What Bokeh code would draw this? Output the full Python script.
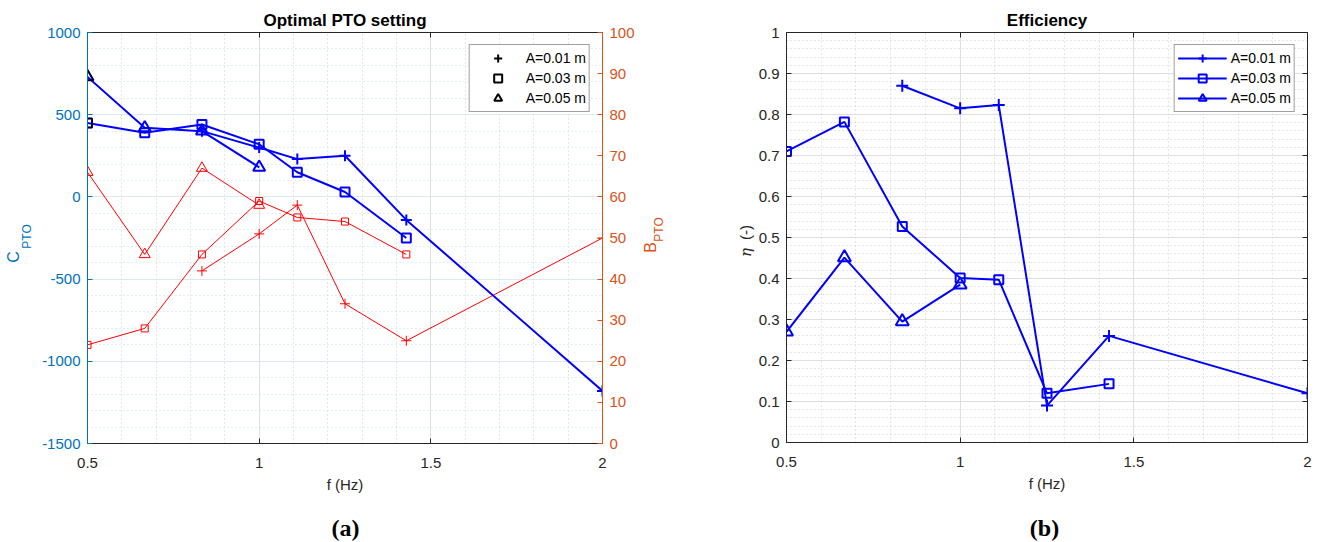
import math
import numpy as np
from bokeh.plotting import figure
from bokeh.layouts import row, column
from bokeh.models import (Range1d, LinearAxis, Grid, FixedTicker, NumeralTickFormatter,
                          CustomJSTickFormatter, Legend, LegendItem, Title)
from bokeh.core.properties import value
from bokeh.embed import file_html
from bokeh.resources import INLINE

# wave frequencies f = 1/T (T = 2.0, 1.5, 1.2, 1.0, 0.9, 0.8, 0.7, 0.5 s)
f_a001 = [0.8333, 1.0, 1.1111, 1.25, 1.4286, 2.0]
f_a003 = [0.5, 0.6667, 0.8333, 1.0, 1.1111, 1.25, 1.4286]
f_a005 = [0.5, 0.6667, 0.8333, 1.0]

# optimal PTO stiffness (left axis)
c_pto_a001 = [400, 300, 230, 250, -140, -1180]
c_pto_a003 = [450, 390, 440, 320, 150, 30, -250]
c_pto_a005 = [730, 420, 400, 180]

# optimal PTO damping (right axis)
b_pto_a001 = [42, 51, 58, 34, 25, 50]
b_pto_a003 = [24, 28, 46, 59, 55, 54, 46]
b_pto_a005 = [66, 46, 67, 58]

# efficiency
eta_a001 = [0.87, 0.815, 0.823, 0.09, 0.26, 0.12]
eta_a003 = [0.71, 0.782, 0.527, 0.401, 0.397, 0.12, 0.143]
eta_a005 = [0.27, 0.451, 0.295, 0.385]

amp_labels = ["A=0.01 m", "A=0.03 m", "A=0.05 m"]

x_ticks = [0.5, 1, 1.5, 2]
c_ticks = [-1500, -1000, -500, 0, 500, 1000]
b_ticks = [0, 10, 20, 30, 40, 50, 60, 70, 80, 90, 100]
eta_ticks = [0, 0.1, 0.2, 0.3, 0.4, 0.5, 0.6, 0.7, 0.8, 0.9, 1]

FONT = "Liberation Sans"
INK = "#262626"
C_AX = "#0072BD"
B_AX = "#D95319"
LINE_BLUE = "#0000FF"
LINE_RED = "#FF0000"

x_minor = [float(v) for v in np.round(np.arange(0.5, 2.0001, 0.1), 3)]
c_minor = [float(v) for v in np.arange(-1500, 1001, 100)]
eta_minor = [float(v) for v in np.round(np.arange(0, 1.0001, 0.02), 3)]

xt = FixedTicker(ticks=x_ticks, minor_ticks=x_minor)
ct = FixedTicker(ticks=c_ticks, minor_ticks=c_minor)
bt = FixedTicker(ticks=b_ticks)
et = FixedTicker(ticks=eta_ticks, minor_ticks=eta_minor)

blank = CustomJSTickFormatter(code="return ''")
NAN = float("nan")


def axis(ticker, color, label_color=None, fmt=None, show=True, standoff=7, **kw):
    return LinearAxis(
        ticker=ticker,
        formatter=fmt if show else blank,
        axis_line_color=color, axis_line_width=1,
        major_tick_line_color=color, major_tick_in=5, major_tick_out=0,
        minor_tick_in=0, minor_tick_out=0,
        major_label_text_color=label_color or color,
        major_label_text_font=FONT,
        major_label_text_font_size="15px" if show else "1px",
        major_label_standoff=standoff if show else 0,
        **kw)


def x_axis_below():
    return axis(xt, INK, fmt=NumeralTickFormatter(format="0.[0]"), standoff=14,
                axis_label="f (Hz)", axis_label_standoff=5,
                axis_label_text_font=FONT, axis_label_text_font_size="15px",
                axis_label_text_font_style="normal", axis_label_text_color=INK)


def plot_title(s):
    return Title(text=s, align="center", vertical_align="bottom", standoff=5,
                 text_font=FONT, text_font_size="17px", text_font_style="bold",
                 text_color="black")


class Strip:
    """A bare canvas whose frame fills it, used for free-standing texts.
    Positions are given in page pixels (x to the right, y downwards);
    dy corrects the vertical placement of the texts on tall canvases."""

    def __init__(self, left, top, width, height, dy=0):
        self.left, self.top, self.h, self.dy = left, top, height, dy
        self.fig = figure(width=width, height=height, frame_width=width, frame_height=height,
                          min_border=0, title=None,
                          x_range=Range1d(0, width), y_range=Range1d(0, height),
                          x_axis_type=None, y_axis_type=None,
                          output_backend="svg", toolbar_location=None,
                          background_fill_color="white", border_fill_color="white",
                          outline_line_color=None)

    def put(self, X, Y, s, size="15px", color=INK, style="normal", font=FONT, angle=0.0):
        yy = self.h - (Y - self.top) + self.dy
        self.fig.text(x=[X - self.left], y=[yy], text=[s], angle=angle,
                      text_font=value(font), text_font_size=value(size),
                      text_font_style=style, text_color=color,
                      text_align="center", text_baseline="middle")


def legend(items, glyph_width, standoff):
    return Legend(items=items, location="top_right", margin=12, padding=3, spacing=0,
                  glyph_width=glyph_width, glyph_height=20, label_height=20,
                  label_standoff=standoff,
                  label_text_font=FONT, label_text_font_size="14px", label_text_color="black",
                  border_line_color="#404040", border_line_width=1,
                  background_fill_color="white", background_fill_alpha=1)


ROW_H = 502

# ---------------- (a) optimal PTO setting ----------------
p1 = figure(width=604, height=ROW_H, frame_width=515, frame_height=411,
            min_border_left=51, min_border_right=38, min_border_top=32, min_border_bottom=59,
            x_range=Range1d(0.5, 2), y_range=Range1d(-1500, 1000),
            x_axis_type=None, y_axis_type=None,
            output_backend="svg", toolbar_location=None,
            background_fill_color="white", border_fill_color="white", outline_line_color=None)
p1.extra_y_ranges = {"b": Range1d(0, 100)}

p1.add_layout(Grid(dimension=0, ticker=xt, grid_line_color="#dfdfdf",
                   minor_grid_line_color="#cccccc", minor_grid_line_dash="1 3"))
p1.add_layout(Grid(dimension=1, ticker=ct, grid_line_color="#d9eaf5",
                   minor_grid_line_color="#bfdcee", minor_grid_line_dash="1 3"))

p1.add_layout(x_axis_below(), "below")
p1.add_layout(axis(xt, INK, show=False), "above")
p1.add_layout(axis(ct, C_AX, fmt=NumeralTickFormatter(format="0")), "left")
p1.add_layout(axis(bt, B_AX, fmt=NumeralTickFormatter(format="0"), y_range_name="b"), "right")
p1.add_layout(plot_title("Optimal PTO setting"), "above")

# damping curves (thin red, right axis)
for fx, yb, mk, sz in [(f_a001, b_pto_a001, "cross", 10),
                       (f_a003, b_pto_a003, "square", 7),
                       (f_a005, b_pto_a005, "triangle", 11)]:
    p1.line(fx, yb, line_color=LINE_RED, line_width=1, y_range_name="b")
    p1.scatter(fx, yb, marker=mk, size=sz, line_color=LINE_RED, fill_color=None,
               line_width=1, y_range_name="b")

# stiffness curves (thick blue, left axis)
for fx, yc, mk, sz in [(f_a001, c_pto_a001, "cross", 11),
                       (f_a003, c_pto_a003, "square", 9),
                       (f_a005, c_pto_a005, "triangle", 12)]:
    p1.line(fx, yc, line_color=LINE_BLUE, line_width=2)
    p1.scatter(fx, yc, marker=mk, size=sz, line_color=LINE_BLUE, fill_color=None, line_width=2)

# first points of the two larger amplitudes are shown in black
p1.scatter(f_a003[:1], c_pto_a003[:1], marker="square", size=9, line_color="black",
           fill_color=None, line_width=1.5)
p1.scatter(f_a005[:1], c_pto_a005[:1], marker="triangle", size=12, line_color="black",
           fill_color=None, line_width=1.5)

# marker-only legend keys (black)
items1 = []
for mk, lab in zip(["cross", "square", "triangle"], amp_labels):
    r = p1.scatter(x=[NAN], y=[NAN], marker=mk, size=10, line_color="black",
                   fill_color=None, line_width=2)
    items1.append(LegendItem(label=lab, renderers=[r]))
p1.add_layout(legend(items1, 50, 3))

# ---------------- (b) efficiency ----------------
p2 = figure(width=564, height=ROW_H, frame_width=521, frame_height=410,
            min_border_left=30, min_border_right=13, min_border_top=32, min_border_bottom=60,
            x_range=Range1d(0.5, 2), y_range=Range1d(0, 1),
            x_axis_type=None, y_axis_type=None,
            output_backend="svg", toolbar_location=None,
            background_fill_color="white", border_fill_color="white", outline_line_color=None)

p2.add_layout(Grid(dimension=0, ticker=xt, grid_line_color="#dfdfdf",
                   minor_grid_line_color="#cccccc", minor_grid_line_dash="1 3"))
p2.add_layout(Grid(dimension=1, ticker=et, grid_line_color="#dfdfdf",
                   minor_grid_line_color="#cccccc", minor_grid_line_dash="1 3"))

p2.add_layout(x_axis_below(), "below")
p2.add_layout(axis(xt, INK, show=False), "above")
p2.add_layout(axis(et, INK, fmt=NumeralTickFormatter(format="0.[0]")), "left")
p2.add_layout(axis(et, INK, show=False), "right")
p2.add_layout(plot_title("Efficiency"), "above")

items2 = []
for fx, ye, mk, sz, lab in [(f_a001, eta_a001, "cross", 12, amp_labels[0]),
                            (f_a003, eta_a003, "square", 9, amp_labels[1]),
                            (f_a005, eta_a005, "triangle", 13, amp_labels[2])]:
    rl = p2.line(fx, ye, line_color=LINE_BLUE, line_width=2)
    rs = p2.scatter(fx, ye, marker=mk, size=sz, line_color=LINE_BLUE, fill_color=None, line_width=2)
    items2.append(LegendItem(label=lab, renderers=[rl, rs]))
p2.add_layout(legend(items2, 49, 4))

# ---------------- rotated axis titles and panel captions ----------------
lab_left = Strip(0, 0, 36, ROW_H, dy=29)
lab_left.put(12.5, 253.5, "C", size="16px", color=C_AX, angle=math.pi / 2)
lab_left.put(26, 233, "PTO", size="12px", color=C_AX, angle=math.pi / 2)

lab_mid = Strip(640, 0, 115, ROW_H, dy=29)
lab_mid.put(650, 244, "B", size="16px", color=B_AX, angle=math.pi / 2)
lab_mid.put(658.5, 226, "PTO", size="12px", color=B_AX, angle=math.pi / 2)
lab_mid.put(745, 249, "\u03b7", font="DejaVu Serif", style="italic", angle=math.pi / 2)
lab_mid.put(745, 229, "(-)", angle=math.pi / 2)

captions = Strip(0, ROW_H, 1319, 542 - ROW_H)
captions.put(345, 527, "(a)", size="24px", style="bold", color="black", font="Liberation Serif")
captions.put(1044, 527, "(b)", size="24px", style="bold", color="black", font="Liberation Serif")

layout = column(row(lab_left.fig, p1, lab_mid.fig, p2), captions.fig)
open("out.html", "w").write(file_html(layout, INLINE))
